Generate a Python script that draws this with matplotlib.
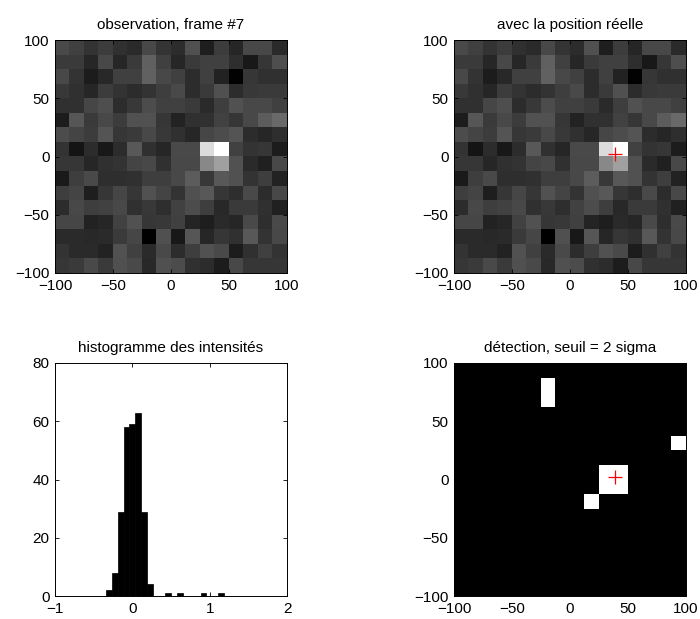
import numpy as np
import matplotlib
matplotlib.use('Agg')
import matplotlib.pyplot as plt

plt.rcParams['font.family'] = ['Liberation Sans', 'DejaVu Sans']
plt.rcParams['font.size'] = 11

# niveaux de gris de l'observation (16x16, 0..255), ligne 0 = haut (y=100)
frame = np.array([
    [0x4a, 0x40, 0x33, 0x3c, 0x30, 0x2a, 0x48, 0x35, 0x2c, 0x50, 0x1e, 0x3c, 0x26, 0x48, 0x48, 0x2a],
    [0x3a, 0x3a, 0x26, 0x48, 0x26, 0x3a, 0x60, 0x40, 0x26, 0x3a, 0x40, 0x40, 0x2e, 0x18, 0x36, 0x4e],
    [0x48, 0x33, 0x1c, 0x28, 0x40, 0x40, 0x62, 0x48, 0x40, 0x2c, 0x40, 0x22, 0x02, 0x36, 0x30, 0x30],
    [0x38, 0x30, 0x26, 0x3c, 0x33, 0x2c, 0x33, 0x3e, 0x4a, 0x2c, 0x3a, 0x50, 0x2c, 0x38, 0x3a, 0x3a],
    [0x30, 0x30, 0x46, 0x4e, 0x2c, 0x38, 0x4c, 0x40, 0x40, 0x3a, 0x2a, 0x3e, 0x52, 0x48, 0x48, 0x40],
    [0x1c, 0x56, 0x3a, 0x48, 0x3c, 0x52, 0x52, 0x36, 0x22, 0x30, 0x30, 0x42, 0x36, 0x48, 0x5c, 0x6a],
    [0x4c, 0x44, 0x3c, 0x54, 0x36, 0x3a, 0x48, 0x38, 0x30, 0x26, 0x46, 0x4c, 0x54, 0x2c, 0x26, 0x2e],
    [0x33, 0x14, 0x2c, 0x18, 0x2c, 0x58, 0x30, 0x26, 0x4a, 0x4a, 0xdc, 0xff, 0x42, 0x33, 0x36, 0x1c],
    [0x36, 0x36, 0x26, 0x30, 0x33, 0x44, 0x48, 0x30, 0x48, 0x48, 0x88, 0xa0, 0x52, 0x2a, 0x20, 0x48],
    [0x1a, 0x3e, 0x4a, 0x2e, 0x2e, 0x30, 0x3e, 0x3e, 0x48, 0x5c, 0x38, 0x58, 0x52, 0x33, 0x3e, 0x22],
    [0x3e, 0x44, 0x1e, 0x36, 0x46, 0x36, 0x52, 0x44, 0x33, 0x50, 0x58, 0x36, 0x2e, 0x4a, 0x2c, 0x48],
    [0x2c, 0x48, 0x3e, 0x42, 0x48, 0x30, 0x38, 0x2e, 0x42, 0x4c, 0x3e, 0x28, 0x3a, 0x3a, 0x30, 0x20],
    [0x46, 0x46, 0x22, 0x26, 0x42, 0x52, 0x36, 0x38, 0x40, 0x24, 0x1e, 0x2a, 0x26, 0x4a, 0x2e, 0x4a],
    [0x2a, 0x2a, 0x28, 0x2a, 0x3a, 0x46, 0x00, 0x50, 0x18, 0x56, 0x26, 0x36, 0x30, 0x58, 0x33, 0x48],
    [0x33, 0x2a, 0x2a, 0x22, 0x52, 0x40, 0x2a, 0x4a, 0x2c, 0x3e, 0x52, 0x4a, 0x1c, 0x30, 0x40, 0x33],
    [0x36, 0x3a, 0x4a, 0x3a, 0x50, 0x4a, 0x28, 0x50, 0x4c, 0x30, 0x2c, 0x1c, 0x48, 0x36, 0x36, 0x36],
], dtype=float)

# pixels au-dessus du seuil (ligne, colonne)
detect_rows = [1, 2, 5, 7, 7, 8, 8, 9]
detect_cols = [6, 6, 15, 10, 11, 10, 11, 9]

# position réelle de la source
true_x = [39]
true_y = [2.5]

# histogramme des intensités (20 classes)
hist_counts = [2, 8, 29, 58, 59, 63, 29, 4, 0, 0, 1, 0, 1, 0, 0, 0, 1, 0, 0, 1]
hist_min, hist_max = -0.344, 1.188

ext = [-100, 100, -100, 100]
ticks_img = [-100, -50, 0, 50, 100]

fig = plt.figure(figsize=(7.0, 6.19), dpi=100)
W, H = 700, 619


def axes_px(x0, y0, x1, y1):
    return fig.add_axes([x0 / W, 1 - y1 / H, (x1 - x0) / W, (y1 - y0) / H])


def style(ax):
    ax.tick_params(direction='in', top=True, right=True, length=3,
                   width=0.6, labelsize=11, pad=4)
    for s in ax.spines.values():
        s.set_linewidth(0.7)


ax1 = axes_px(55, 40, 287, 273)
ax2 = axes_px(454, 40, 686, 273)
ax3 = axes_px(55, 363, 287, 596)
ax4 = axes_px(454, 363, 686, 596)

for ax in (ax1, ax2):
    ax.imshow(frame, cmap='gray', vmin=frame.min(), vmax=frame.max(),
              extent=ext, aspect='auto', interpolation='nearest')

ax2.plot(true_x, true_y, '+', color='red', ms=10, mew=0.9)

mask = np.zeros_like(frame)
mask[detect_rows, detect_cols] = 1
ax4.imshow(mask, cmap='gray', vmin=0, vmax=1, extent=ext,
           aspect='auto', interpolation='nearest')
ax4.plot(true_x, true_y, '+', color='red', ms=10, mew=0.9)

for ax in (ax1, ax2, ax4):
    ax.set_xlim(-100, 100)
    ax.set_ylim(-100, 100)
    ax.set_xticks(ticks_img)
    ax.set_yticks(ticks_img)
    style(ax)

edges = np.linspace(hist_min, hist_max, len(hist_counts) + 1)
ax3.bar(edges[:-1], hist_counts, width=np.diff(edges), align='edge',
        color='k', edgecolor='k', linewidth=0.5)
ax3.set_xlim(-1, 2)
ax3.set_ylim(0, 80)
ax3.set_xticks([-1, 0, 1, 2])
ax3.set_yticks([0, 20, 40, 60, 80])
style(ax3)

ax1.set_title('observation, frame #7', fontsize=11, pad=8)
ax2.set_title('avec la position réelle', fontsize=11, pad=8)
ax3.set_title('histogramme des intensités', fontsize=11, pad=8)
ax4.set_title('détection, seuil = 2 sigma', fontsize=11, pad=8)

fig.savefig('out.png', dpi=100)
